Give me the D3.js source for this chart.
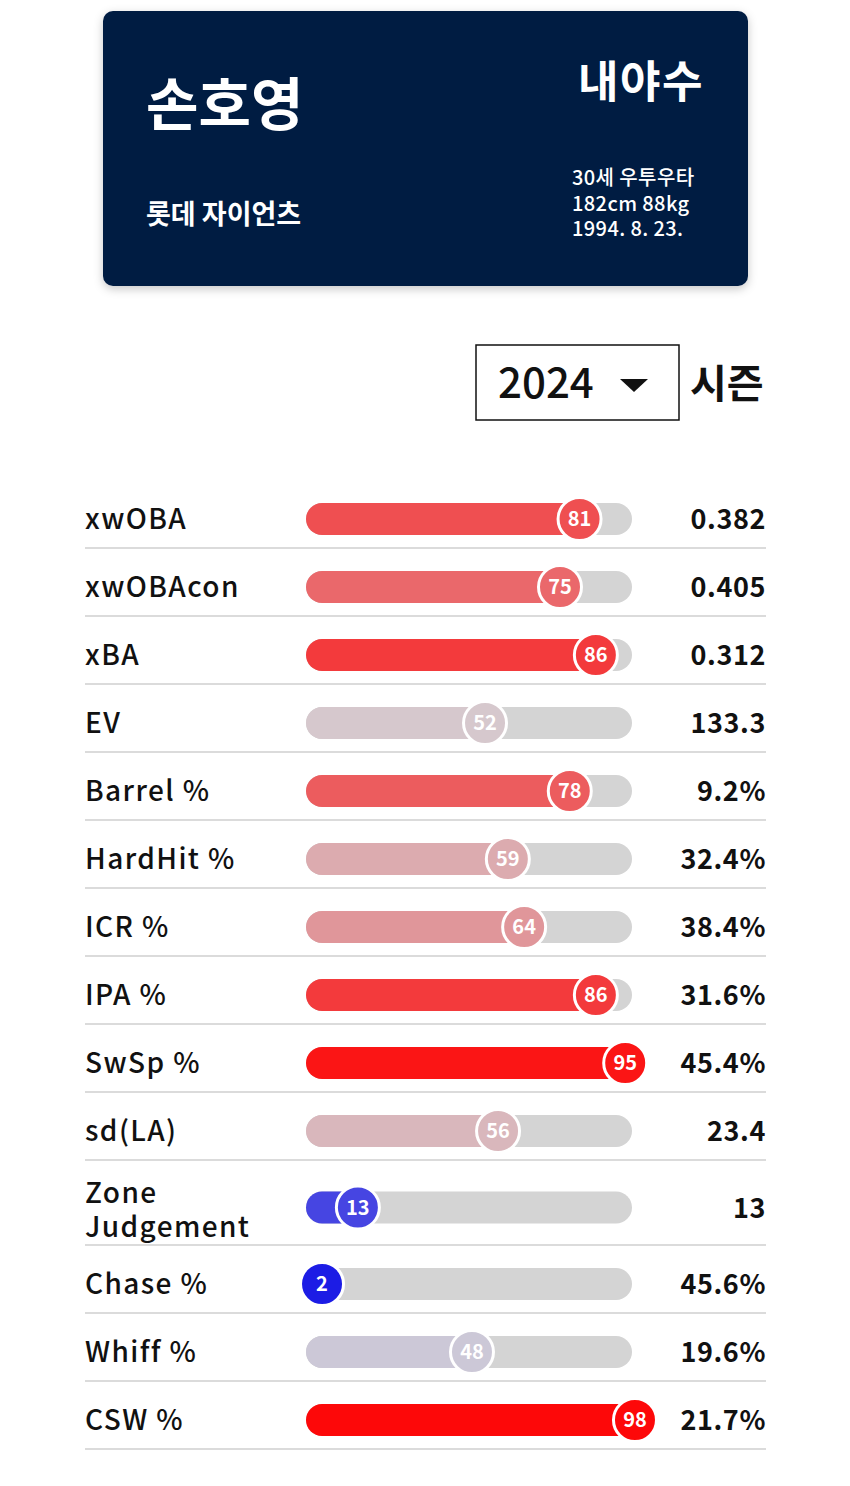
<!DOCTYPE html>
<html>
<head>
<meta charset="utf-8">
<script src="https://cdn.jsdelivr.net/npm/d3@7"></script>
<style>
  body { margin: 0; background: #fff; }
  svg { display: block; }
  text { font-family: "Noto Sans CJK KR", "Noto Sans", sans-serif; }
</style>
</head>
<body>
<div id="chart"></div>
<script>
// player card
const playerName = "손호영";
const teamName = "롯데 자이언츠";
const position = "내야수";
const infoLines = ["30세 우투우타", "182cm 88kg", "1994. 8. 23."];
const season = "2024";
const seasonLabel = "시즌";

// metric rows
const metrics = ["xwOBA", "xwOBAcon", "xBA", "EV", "Barrel %", "HardHit %", "ICR %", "IPA %",
  "SwSp %", "sd(LA)", "Zone Judgement", "Chase %", "Whiff %", "CSW %"];
const percentiles = [81, 75, 86, 52, 78, 59, 64, 86, 95, 56, 13, 2, 48, 98];
const statValues = ["0.382", "0.405", "0.312", "133.3", "9.2%", "32.4%", "38.4%", "31.6%",
  "45.4%", "23.4", "13", "45.6%", "19.6%", "21.7%"];

const width = 850, height = 1486;

const svg = d3.select("#chart").append("svg")
  .attr("width", width)
  .attr("height", height);

// soft shadow under the card
const defs = svg.append("defs");
defs.append("filter")
  .attr("id", "shadow")
  .attr("x", "-10%").attr("y", "-10%")
  .attr("width", "120%").attr("height", "130%")
  .append("feDropShadow")
  .attr("dx", 0).attr("dy", 3)
  .attr("stdDeviation", 5)
  .attr("flood-color", "#000")
  .attr("flood-opacity", 0.22);

// --- header card ---
const card = svg.append("g");
card.append("rect")
  .attr("x", 103).attr("y", 11)
  .attr("width", 645).attr("height", 275)
  .attr("rx", 10)
  .attr("fill", "#051d42")
  .attr("filter", "url(#shadow)");

card.append("text")
  .attr("x", 146).attr("y", 125)
  .attr("fill", "#fff")
  .attr("font-size", 57)
  .attr("font-weight", 700)
  .text(playerName);

card.append("text")
  .attr("x", 146).attr("y", 224)
  .attr("fill", "#fff")
  .attr("font-size", 27)
  .attr("font-weight", 700)
  .text(teamName);

card.append("text")
  .attr("x", 704).attr("y", 98)
  .attr("text-anchor", "end")
  .attr("fill", "#fff")
  .attr("font-size", 44)
  .attr("font-weight", 700)
  .attr("letter-spacing", 1.5)
  .text(position);

// one text per info line, kept tight so boxes don't collide
card.selectAll("text.info")
  .data(infoLines)
  .join("text")
  .attr("class", "info")
  .attr("x", 572)
  .attr("y", (d, i) => 185 + i * 25.5)
  .attr("fill", "#fff")
  .attr("font-size", 20)
  .attr("font-weight", 500)
  .attr("letter-spacing", 0.4)
  .text(d => d);

// --- season selector ---
const sel = svg.append("g");
sel.append("rect")
  .attr("x", 476).attr("y", 345)
  .attr("width", 203).attr("height", 75)
  .attr("fill", "#fff")
  .attr("stroke", "#111")
  .attr("stroke-width", 1.5);
sel.append("text")
  .attr("x", 498).attr("y", 398)
  .attr("font-size", 42)
  .attr("font-weight", 500)
  .attr("fill", "#111")
  .text(season);
sel.append("path")
  .attr("d", "M620,379 L648,379 L634,392 Z")
  .attr("fill", "#111");
sel.append("text")
  .attr("x", 690).attr("y", 398)
  .attr("font-size", 40)
  .attr("font-weight", 700)
  .attr("fill", "#111")
  .text(seasonLabel);

// --- metric rows ---
const x = d3.scaleLinear().domain([0, 100]).range([315.5, 641.5]);
const color = d3.scaleLinear()
  .domain([0, 50, 100])
  .range(["#1414e6", "#d4d0d6", "#ff0000"])
  .interpolate(d3.interpolateRgb);

const trackX0 = 306, trackX1 = 632, barH = 32;
const rowH = 68, extraH = 17;
const leftX = 85, rightX = 766;

// row layout: two-line labels get a taller row
const rows = metrics.map((m, i) => {
  const words = m.split(" ");
  const lines = (m.length > 12) ? words : [m];
  return { label: m, lines, pct: percentiles[i], val: statValues[i] };
});
let rowTop = 480;
rows.forEach(r => {
  const h = rowH + (r.lines.length > 1 ? extraH : 0);
  r.top = rowTop;
  r.cy = rowTop + 39 + (h - rowH) / 2;
  r.bottom = rowTop + h;
  rowTop += h;
});

const rowG = svg.selectAll("g.row")
  .data(rows)
  .join("g")
  .attr("class", "row");

// separator line
rowG.append("line")
  .attr("x1", leftX).attr("x2", rightX)
  .attr("y1", d => d.bottom).attr("y2", d => d.bottom)
  .attr("stroke", "#cfcfcf")
  .attr("stroke-width", 1.5);

// label (one text per line)
rowG.each(function (d) {
  const g = d3.select(this);
  const lh = 34;
  const y0 = d.cy + 10 - (d.lines.length - 1) * lh / 2 + (d.lines.length - 1) * 2;
  d.lines.forEach((ln, i) => {
    g.append("text")
      .attr("x", leftX)
      .attr("y", y0 + i * lh)
      .attr("font-size", 28)
      .attr("font-weight", 500)
      .attr("letter-spacing", 1.4)
      .attr("fill", "#111")
      .text(ln);
  });
});

// track
rowG.append("rect")
  .attr("x", trackX0)
  .attr("y", d => d.cy - barH / 2)
  .attr("width", trackX1 - trackX0)
  .attr("height", barH)
  .attr("rx", barH / 2)
  .attr("fill", "#d4d4d4");

// filled part
rowG.append("rect")
  .attr("x", trackX0)
  .attr("y", d => d.cy - barH / 2)
  .attr("width", d => Math.max(0, x(d.pct) - trackX0))
  .attr("height", barH)
  .attr("rx", barH / 2)
  .attr("fill", d => color(d.pct));

// percentile bubble
rowG.append("circle")
  .attr("cx", d => x(d.pct))
  .attr("cy", d => d.cy)
  .attr("r", 21.5)
  .attr("fill", d => color(d.pct))
  .attr("stroke", "#fff")
  .attr("stroke-width", 3);

rowG.append("text")
  .attr("x", d => x(d.pct))
  .attr("y", d => d.cy + 7)
  .attr("text-anchor", "middle")
  .attr("font-size", 20)
  .attr("font-weight", 700)
  .attr("fill", "#fff")
  .text(d => d.pct);

// stat value
rowG.append("text")
  .attr("x", rightX)
  .attr("y", d => d.cy + 10)
  .attr("text-anchor", "end")
  .attr("font-size", 27)
  .attr("font-weight", 700)
  .attr("letter-spacing", 0.6)
  .attr("fill", "#111")
  .text(d => d.val);
</script>
</body>
</html>
